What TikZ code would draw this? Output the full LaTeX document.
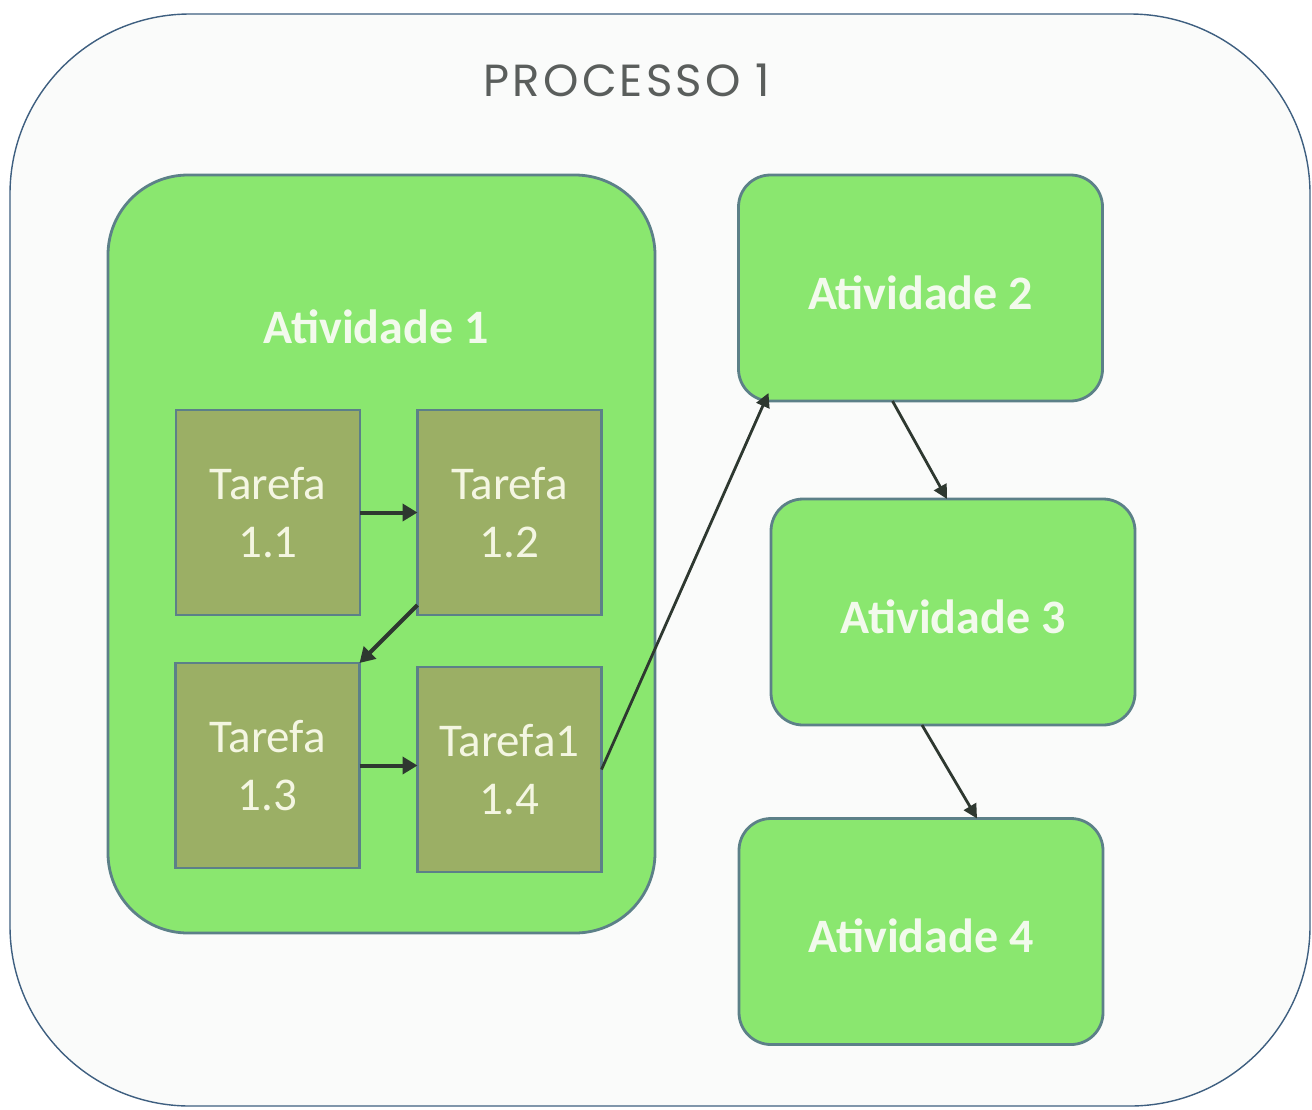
\documentclass[tikz,border=0pt]{standalone}
\usepackage{fontspec}
\setmainfont{Carlito}
\newfontfamily\titlefont[LetterSpace=7]{Poppins}
\usetikzlibrary{arrows.meta,calc}
\definecolor{bgc}{HTML}{FAFBFA}
\definecolor{outerline}{HTML}{3E5F80}
\definecolor{actfill}{HTML}{8AE76F}
\definecolor{boxline}{HTML}{5C8088}
\definecolor{taskfill}{HTML}{9BAF65}
\definecolor{tasktext}{HTML}{F4F6E2}
\definecolor{acttext}{HTML}{F2FAEC}
\definecolor{arrowc}{HTML}{2E3830}
\definecolor{titlec}{HTML}{5A5E5C}
\tikzset{
  outerbox/.style={draw=outerline,line width=0.7pt,fill=bgc,rounded corners=90pt,inner sep=0pt,outer sep=0pt},
  actbox/.style={draw=boxline,line width=1.4pt,fill=actfill,rounded corners=16pt,inner sep=0pt,outer sep=0pt,
    minimum width=182pt,minimum height=113pt,text=acttext,text height=21pt,text depth=0pt,
    font=\fontsize{24pt}{28pt}\selectfont\bfseries},
  bigact/.style={draw=boxline,line width=1.4pt,fill=actfill,rounded corners=40pt,inner sep=0pt,outer sep=0pt,
    minimum width=273.5pt,minimum height=379pt},
  acttitle/.style={text=acttext,font=\fontsize{24pt}{28pt}\selectfont\bfseries,inner sep=0pt},
  taskbox/.style={draw=boxline,line width=1.4pt,fill=taskfill,inner sep=0pt,outer sep=0pt,
    minimum width=92pt,minimum height=102.5pt,align=center,text=tasktext,
    font=\fontsize{23.5pt}{29pt}\selectfont},
  thickarrow/.style={draw=arrowc,line width=2pt,-{Triangle[length=7.5pt,width=8.5pt]}},
  thinarrow/.style={draw=arrowc,line width=1.4pt,-{Triangle[length=7pt,width=7pt]}},
}
\begin{document}
\begin{tikzpicture}[x=0.5pt,y=-0.5pt]
\useasboundingbox (0,0) rectangle (1312,1109);
\fill[white] (0,0) rectangle (1312,1109);
\node[outerbox,minimum width=650pt,minimum height=546pt] (outer) at (660,560) {};
\node[text=titlec,font=\titlefont\fontsize{22.5pt}{26pt}\selectfont,inner sep=0pt] (title) at (627,80) {PROCESSO 1};
\node[bigact] (a1) at (381.5,554) {};
\node[acttitle] (a1t) at (376,327) {Atividade 1};
\node[taskbox] (t11) at (268,512.5) {Tarefa\\1.1};
\node[taskbox] (t12) at (509.5,512.5) {Tarefa\\1.2};
\node[taskbox] (t13) at (267.5,765.5) {Tarefa\\1.3};
\node[taskbox] (t14) at (509.5,769.5) {Tarefa1\\1.4};
\node[actbox] (a2) at (920.5,288) {Atividade 2};
\node[actbox] (a3) at (953,612) {Atividade 3};
\node[actbox] (a4) at (921,931.5) {Atividade 4};
\draw[thickarrow] (t11.east) -- (t11.east -| t12.west);
\draw[thickarrow] ($(t12.south west)+(0,5pt)$) -- (t13.north east);
\draw[thickarrow] (t13.east) -- (t13.east -| t14.west);
\draw[thinarrow] (t14.east) -- ($(a2.south west)+(15pt,4pt)$);
\draw[thinarrow] ($(a2.south)+(-14pt,0)$) -- ($(a3.north)+(-3pt,0)$);
\draw[thinarrow] ($(a3.south)+(-15.5pt,0)$) -- ($(a4.north)+(28pt,0)$);
\end{tikzpicture}
\end{document}
